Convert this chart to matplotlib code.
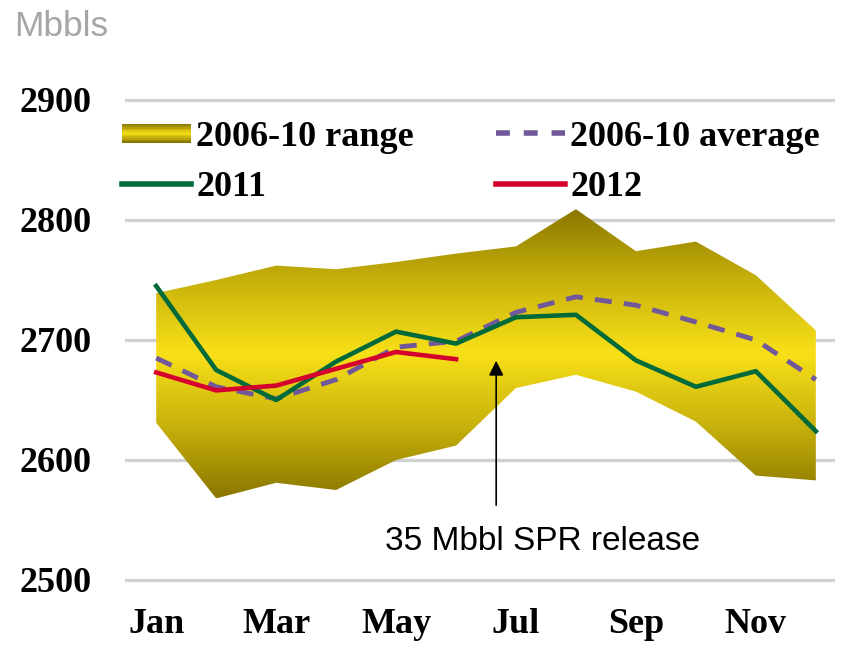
import numpy as np
import matplotlib
matplotlib.use("Agg")
import matplotlib.pyplot as plt
from matplotlib.colors import LinearSegmentedColormap
from matplotlib.patches import Rectangle, Patch
from matplotlib.lines import Line2D
from matplotlib.legend_handler import HandlerBase
from matplotlib.font_manager import FontProperties

months = ["Jan", "Feb", "Mar", "Apr", "May", "Jun", "Jul", "Aug", "Sep", "Oct", "Nov", "Dec"]
range_high = [2739, 2750, 2762, 2759, 2765, 2772, 2778, 2809, 2774, 2782, 2754, 2708]
range_low = [2631, 2568, 2581, 2575, 2600, 2612, 2660, 2671, 2657, 2632, 2587, 2583]
avg_0610 = [2685, 2661, 2651, 2667, 2694, 2699, 2723, 2736, 2729, 2715, 2700, 2667]
y2011 = [2745, 2675, 2650, 2682, 2707, 2697, 2719, 2721, 2683, 2661, 2674, 2624]
y2012 = [2673, 2658, 2662, 2676, 2690, 2684]
tick_months = ["Jan", "Mar", "May", "Jul", "Sep", "Nov"]

gold = LinearSegmentedColormap.from_list("gold", ["#8a7600", "#c8b20c", "#f8e018", "#c8b20c", "#8a7600"])
serif = dict(family="Liberation Serif", weight="bold", size=26)

fig = plt.figure(figsize=(8.57, 6.45), dpi=100)
ax = fig.add_axes([125 / 857, 59 / 645, 710 / 857, 492 / 645])
x = np.arange(len(months))

# range band with vertical gradient
band = ax.fill_between(x, range_low, range_high, facecolor="none", edgecolor="none")
lo, hi = min(range_low), max(range_high)
grad = np.linspace(0, 1, 256).reshape(-1, 1)
img = ax.imshow(grad, cmap=gold, aspect="auto", extent=[x[0], x[-1], lo, hi],
                origin="lower", zorder=1)
img.set_clip_path(band.get_paths()[0], transform=ax.transData)

ax.plot(x, avg_0610, color="#70589a", lw=3.5, ls=(0, (3.5, 2.5)), zorder=3)
ax.plot(x, y2011, color="#006a3a", lw=3.3, zorder=4)
ax.plot(x[:len(y2012)], y2012, color="#d4002e", lw=3.3, zorder=5)

ax.annotate("", xy=(5.67, 2685), xytext=(5.67, 2560),
            arrowprops=dict(arrowstyle="-|>", lw=1.2, color="black", mutation_scale=22))
ax.text(6.45, 2532, "35 Mbbl SPR release", ha="center", va="center",
        fontsize=24, family="Liberation Sans")

ax.set_xlim(-0.52, 11.32)
ax.set_ylim(2495, 2905)
ax.set_yticks([2500, 2600, 2700, 2800, 2900])
ax.set_xticks([months.index(m) for m in tick_months])
ax.set_xticklabels(tick_months)
for lab in ax.get_xticklabels() + ax.get_yticklabels():
    lab.set_fontproperties(FontProperties(**serif))
ax.tick_params(axis="y", length=0, pad=24)
ax.tick_params(axis="x", length=0, pad=16)
ax.yaxis.grid(True, color="#d0d0d0", lw=2.4)
ax.set_axisbelow(True)
for s in ax.spines.values():
    s.set_visible(False)


class GradientHandler(HandlerBase):
    def create_artists(self, legend, orig, xd, yd, width, height, fontsize, trans):
        n = 12
        h = height * 0.75
        y0 = yd + (height - h) / 2
        return [Rectangle((xd, y0 + i * h / n), width, h / n, facecolor=gold(i / (n - 1)),
                          edgecolor="none", transform=trans) for i in range(n)]


handles = [Patch(), Line2D([], [], color="#006a3a", lw=4),
           Line2D([], [], color="#70589a", lw=4, ls=(0, (2.5, 2.5))),
           Line2D([], [], color="#d4002e", lw=4)]
labels = ["2006-10 range", "2011", "2006-10 average", "2012"]
ax.legend(handles, labels, ncol=2, loc="upper left", bbox_to_anchor=(122 / 857, 0.813),
          bbox_transform=fig.transFigure, frameon=False, prop=FontProperties(**serif),
          handlelength=1.9, handletextpad=0.15, columnspacing=2.28, labelspacing=0.47,
          handler_map={Patch: GradientHandler()}, borderaxespad=0, borderpad=0)

fig.text(14 / 857, 1 - 27 / 645, "Mbbls", color="#a6a6a6", fontsize=25.5,
         family="Liberation Sans", va="center", ha="left")

fig.savefig("out.png", dpi=100)
